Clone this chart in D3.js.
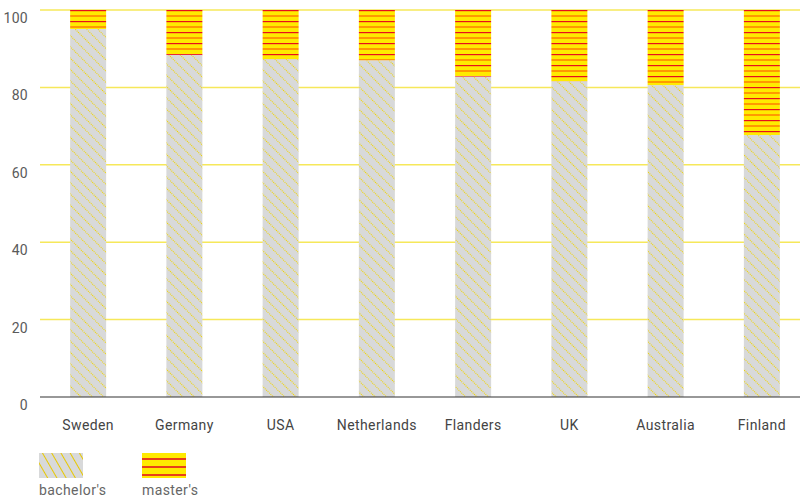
<!DOCTYPE html>
<html>
<head>
  <style>
    body{ margin:0; background:#fff; font-family:"Roboto", "Liberation Sans", sans-serif; }
    .tick-label{ fill:#5a5a5a; font-size:14px; letter-spacing:0.3px; }
    .country-label{ fill:#444; font-size:14px; letter-spacing:0.4px; }
    .legend-label{ fill:#666; font-size:14px; letter-spacing:0.4px; }
  </style>
  <script src="https://d3js.org/d3.v7.min.js"></script>
</head>
<body>
<div class="chart"></div>
<script>
const countries = ['Sweden','Germany','USA','Netherlands','Flanders','UK','Australia','Finland'];
const bachelors = [95.1, 88.4, 87.3, 87.0, 82.8, 81.6, 80.6, 67.7];
const masters = bachelors.map(v => 100 - v); // remainder of the 100% stack
const yTicks = [0, 20, 40, 60, 80, 100];
const seriesNames = ["bachelor's", "master's"];

const width = 800, height = 498;
const svg = d3.select('.chart').append('svg')
  .attr('width', width).attr('height', height);

const defs = svg.append('defs');

// grey with dotted yellow diagonals
const hatch = defs.append('pattern')
  .attr('id', 'hatch').attr('patternUnits', 'userSpaceOnUse')
  .attr('width', 8).attr('height', 8)
  .attr('patternTransform', 'rotate(-45)');
hatch.append('rect').attr('width', 8).attr('height', 8).attr('fill', '#d8d9da');
hatch.append('line').attr('x1', 0.5).attr('y1', 0).attr('x2', 0.5).attr('y2', 8)
  .attr('stroke', '#f0d400').attr('stroke-width', 1.2).attr('stroke-dasharray', '1 1');

const hatchLegend = defs.append('pattern')
  .attr('id', 'hatch-legend').attr('patternUnits', 'userSpaceOnUse')
  .attr('width', 8).attr('height', 8)
  .attr('patternTransform', 'rotate(-30)');
hatchLegend.append('rect').attr('width', 8).attr('height', 8).attr('fill', '#d8d9da');
hatchLegend.append('line').attr('x1', 0.5).attr('y1', 0).attr('x2', 0.5).attr('y2', 8)
  .attr('stroke', '#e8c800').attr('stroke-width', 1);

// yellow with red + orange stripes
const stripes = defs.append('pattern')
  .attr('id', 'stripes').attr('patternUnits', 'userSpaceOnUse')
  .attr('y', 10).attr('width', 11).attr('height', 11);
stripes.append('rect').attr('width', 11).attr('height', 11).attr('fill', '#ffeb00');
stripes.append('rect').attr('y', 0).attr('width', 11).attr('height', 1.2).attr('fill', '#e8101c');
stripes.append('rect').attr('y', 5).attr('width', 11).attr('height', 2).attr('fill', '#ff9a00');

const stripesLegend = defs.append('pattern')
  .attr('id', 'stripes-legend').attr('patternUnits', 'userSpaceOnUse')
  .attr('y', 458).attr('width', 8).attr('height', 8);
stripesLegend.append('rect').attr('width', 8).attr('height', 8).attr('fill', '#ffeb00');
stripesLegend.append('rect').attr('y', 0).attr('width', 8).attr('height', 2).attr('fill', '#e8401a');

const x = d3.scaleBand().domain(countries).range([40, 810])
  .paddingInner(0.626).paddingOuter(0.313);
const y = d3.scaleLinear().domain([0, 100]).range([397, 10]);

// gridlines
svg.append('g').selectAll('line').data(yTicks.filter(d => d > 0)).join('line')
  .attr('x1', 40).attr('x2', 800)
  .attr('y1', d => y(d)).attr('y2', d => y(d))
  .attr('stroke', '#f6e85a').attr('stroke-width', 1.5);

svg.append('g').selectAll('text').data(yTicks).join('text')
  .attr('class', 'tick-label')
  .attr('x', 28).attr('y', d => y(d) + 13)
  .attr('text-anchor', 'end')
  .text(d => d);

const rows = countries.map((c, i) => ({country: c, bachelors: bachelors[i], masters: masters[i]}));
const stack = d3.stack().keys(['bachelors', 'masters'])(rows);
const fills = ['url(#hatch)', 'url(#stripes)'];

svg.append('g').selectAll('g').data(stack).join('g')
  .attr('fill', (d, i) => fills[i])
  .selectAll('rect').data(d => d).join('rect')
  .attr('x', d => x(d.data.country))
  .attr('width', x.bandwidth())
  .attr('y', d => y(d[1]))
  .attr('height', d => y(d[0]) - y(d[1]));

// zero axis
svg.append('line')
  .attr('x1', 40).attr('x2', 800).attr('y1', y(0)).attr('y2', y(0))
  .attr('stroke', '#333').attr('stroke-width', 1.2);

svg.append('g').selectAll('text').data(countries).join('text')
  .attr('class', 'country-label')
  .attr('x', d => x(d) + x.bandwidth() / 2).attr('y', 430)
  .attr('text-anchor', 'middle')
  .text(d => d);

// legend
const legendX = [39, 142];
const legendFills = ['url(#hatch-legend)', 'url(#stripes-legend)'];
const legend = svg.append('g').selectAll('g').data(seriesNames).join('g')
  .attr('transform', (d, i) => `translate(${legendX[i]},0)`);
legend.append('rect')
  .attr('y', 453).attr('width', 44).attr('height', 25)
  .attr('fill', (d, i) => legendFills[i]);
legend.append('text')
  .attr('class', 'legend-label')
  .attr('y', 495)
  .text(d => d);
</script>
</body>
</html>
